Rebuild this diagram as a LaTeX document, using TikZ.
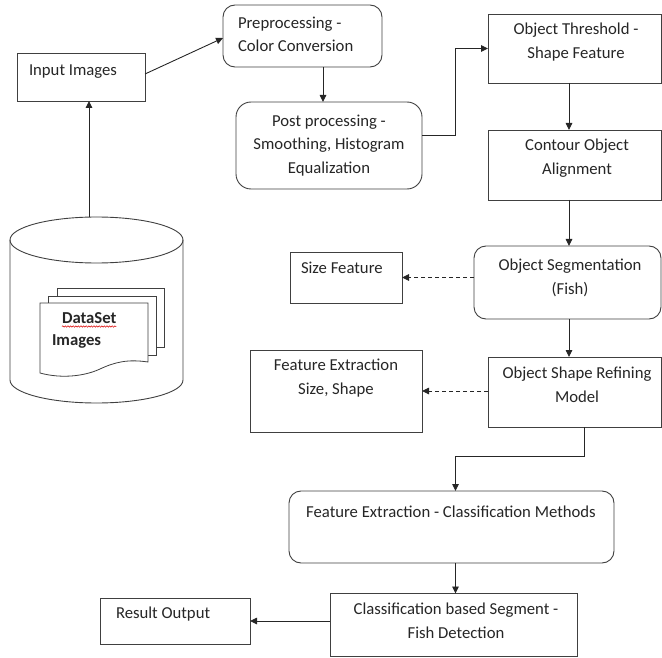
\documentclass[tikz,border=0pt]{standalone}
\usepackage{fontspec}
\setmainfont{Carlito}
\usetikzlibrary{arrows.meta,calc,decorations.pathmorphing}

\tikzset{
  sq/.style={draw=black!75, line width=0.9pt, fill=white, inner sep=0pt, outer sep=0pt},
  rnd/.style={sq, rounded corners=12pt},
  txt/.style={inner sep=0pt, outer sep=0pt, text=black!85, font=\fontsize{16.7}{23.5}\selectfont},
  arr/.style={draw=black!85, line width=0.9pt, -{Triangle[length=7pt,width=6.5pt]}},
  darr/.style={arr, dash pattern=on 4pt off 3pt},
  page/.style={draw=black!75, line width=0.8pt, fill=white}
}

\begin{document}
\begin{tikzpicture}[x=1pt,y=-1pt]
\useasboundingbox (0,0) rectangle (662,658);

% ---------- boxes ----------
\node[sq, minimum width=128, minimum height=48] (input) at (81,77) {};
\node[rnd, minimum width=159, minimum height=62] (prep) at (302.5,36) {};
\node[rnd, rounded corners=15pt, minimum width=186, minimum height=87] (post) at (329,145.5) {};
\node[sq, minimum width=173, minimum height=69] (thresh) at (574.5,48.5) {};
\node[sq, minimum width=173, minimum height=70] (contour) at (574.5,165) {};
\node[rnd, minimum width=187, minimum height=73] (seg) at (567.5,282.5) {};
\node[sq, minimum width=112, minimum height=51] (size) at (346,277.5) {};
\node[sq, minimum width=173, minimum height=70] (shape) at (574.5,392) {};
\node[sq, minimum width=172, minimum height=82] (fesz) at (336,391) {};
\node[rnd, minimum width=325, minimum height=72] (fecl) at (451.5,527) {};
\node[sq, minimum width=247, minimum height=63] (cls) at (453.5,625) {};
\node[sq, minimum width=150, minimum height=46] (res) at (175,621) {};

% ---------- box texts ----------
\node[txt, anchor=base west] (t-input) at (29,75.5) {Input Images};
\node[txt, anchor=north west, align=left] (t-prep) at (238,17) {Preprocessing -\\Color Conversion};
\node[txt, anchor=north, align=center] (t-post) at (329,115) {Post processing -\\Smoothing, Histogram\\Equalization};
\node[txt, anchor=north, align=center] (t-thresh) at (576,23) {Object Threshold -\\Shape Feature};
\node[txt, anchor=north, align=center] (t-contour) at (577,139) {Contour Object\\Alignment};
\node[txt, anchor=north, align=center] (t-seg) at (570,259) {Object Segmentation\\(Fish)};
\node[txt, anchor=base west] (t-size) at (301,273.5) {Size Feature};
\node[txt, anchor=north, align=center] (t-shape) at (577,367) {Object Shape Refining\\Model};
\node[txt, anchor=north, align=center] (t-fesz) at (336,359) {Feature Extraction\\Size, Shape};
\node[txt, anchor=base] (t-fecl) at (451,517.5) {Feature Extraction - Classification Methods};
\node[txt, anchor=north, align=center] (t-cls) at (456,603) {Classification based Segment -\\Fish Detection};
\node[txt, anchor=base west] (t-res) at (116,618.5) {Result Output};

% ---------- database cylinder ----------
\draw[draw=black!75, line width=0.9pt, fill=white]
  (10,240) -- (10,380) arc[start angle=180, end angle=360, x radius=86.5, y radius=-23]
  -- (183,240) arc[start angle=0, end angle=180, x radius=86.5, y radius=-23] -- cycle;
\draw[draw=black!75, line width=0.9pt]
  (10,240) arc[start angle=180, end angle=360, x radius=86.5, y radius=-23];
\coordinate (dbtop) at (89,217);

% stacked document pages inside the cylinder
\draw[page] (57,288) rectangle (164,347);
\draw[page] (48,296) rectangle (156,355);
\draw[page] (40,303) -- (148,303) -- (148,362)
  .. controls (128,359) and (115,362) .. (100,369)
  .. controls (85,376) and (62,379) .. (40,373) -- cycle;
\node[txt, anchor=base west, font=\fontsize{16.7}{23.5}\selectfont\bfseries] (t-ds1) at (62,323.5) {DataSet};
\node[txt, anchor=base west, font=\fontsize{16.7}{23.5}\selectfont\bfseries] (t-ds2) at (52,345.5) {Images};
\draw[red!85!black, line width=0.5pt, decorate,
      decoration={snake, amplitude=0.7pt, segment length=2.6pt}]
  ($(t-ds1.base west)+(0,3)$) -- ($(t-ds1.base east)+(0,3)$);

% ---------- connectors ----------
\draw[arr] (dbtop) -- ([xshift=8pt]input.south);
\draw[arr] ($(input.east)+(0,-3)$) -- ($(prep.west)+(0,2)$);
\draw[arr] ([xshift=20.5pt]prep.south) -- ([xshift=20.5pt]prep.south |- post.north);
\draw[arr] ([yshift=10.5pt]post.east) -- ++(33,0) |- (thresh.west);
\draw[arr] ([xshift=-5.5pt]thresh.south) -- ([xshift=-5.5pt]contour.north);
\draw[arr] ([xshift=-5.5pt]contour.south) -- ([xshift=1.5pt]seg.north);
\draw[arr] ([xshift=1.5pt]seg.south) -- ([xshift=-5.5pt]shape.north);
\draw[darr] (seg.west |- size.east) -- (size.east);
\draw[darr] (shape.west |- fesz.east) -- (fesz.east);
\draw[arr] ([xshift=9.5pt]shape.south) -- ++(0,29) -| ([xshift=4pt]fecl.north);
\draw[arr] ([xshift=4pt]fecl.south) -- ([xshift=2pt]cls.north);
\draw[arr] (cls.west |- res.east) -- (res.east);
\end{tikzpicture}
\end{document}
